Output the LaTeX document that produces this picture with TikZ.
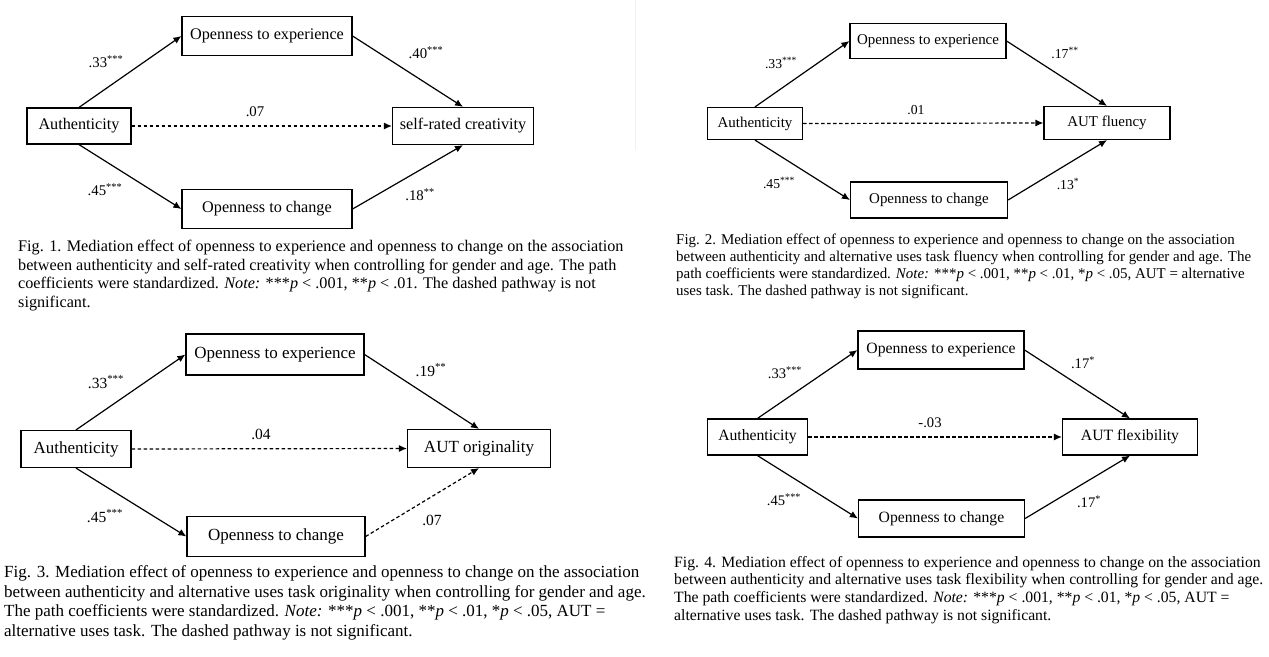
\documentclass[tikz,border=0pt]{standalone}
\usepackage{fontspec}
\setmainfont{Liberation Serif}
\usetikzlibrary{arrows.meta}

\tikzset{
  var/.style={draw, line width=1.2pt, inner sep=0pt},
  eff/.style={-{Latex[length=8pt,width=7pt]}, line width=1.2pt},
  nseff/.style={eff, dash pattern=on 3.5pt off 2.5pt},
  coef/.style={inner sep=0pt},
  figcap/.style={align=left, anchor=north west, inner sep=0pt},
}

\begin{document}
\begin{tikzpicture}[x=1pt,y=-1pt]
\fill[white] (0,0) rectangle (1269,656);
\useasboundingbox (0,0) rectangle (1269,656);
\draw[gray!12,line width=0.8pt] (635,0) -- (635,150);

% Fig. 1
\begin{scope}[font=\fontsize{16.2}{18.5}\selectfont, coef/.append style={font=\fontsize{14.8}{16}\selectfont}]
\node[var, minimum width=104pt, minimum height=36pt] (auth1) at (79,126) {Authenticity};
\node[var, minimum width=170pt, minimum height=39pt] (ote1) at (267,36) {Openness to experience};
\node[var, minimum width=170pt, minimum height=39pt] (otc1) at (267,209) {Openness to change};
\node[var, minimum width=141pt, minimum height=37pt] (src1) at (463,126) {self-rated creativity};
\draw[eff] (auth1.north) -- (ote1.west);
\draw[eff] (ote1.east) -- (src1.north);
\draw[eff] (auth1.south) -- (otc1.west);
\draw[eff] (otc1.east) -- (src1.south);
\draw[nseff] (auth1.east) -- (src1.west);
\node[coef] (a1) at (106,62) {.33\textsuperscript{***}};
\node[coef] (b1) at (426,53) {.40\textsuperscript{***}};
\node[coef] (c1) at (255,112) {.07};
\node[coef] (d1) at (105,190) {.45\textsuperscript{***}};
\node[coef] (e1) at (420,195) {.18\textsuperscript{**}};
\node[figcap] (cap1) at (18,240) {Fig. 1. Mediation effect of openness to experience and openness to change on the association\\
between authenticity and self-rated creativity when controlling for gender and age. The path\\
coefficients were standardized. \textit{Note:} ***\textit{p} < .001, **\textit{p} < .01. The dashed pathway is not\\
significant.};
\end{scope}

% Fig. 2
\begin{scope}[font=\fontsize{14.95}{17}\selectfont, coef/.append style={font=\fontsize{13.7}{15}\selectfont}]
\node[var, minimum width=95pt, minimum height=32pt] (auth2) at (755,123.5) {Authenticity};
\node[var, minimum width=156pt, minimum height=35pt] (ote2) at (928,41) {Openness to experience};
\node[var, minimum width=157pt, minimum height=36pt] (otc2) at (929,200) {Openness to change};
\node[var, minimum width=126pt, minimum height=33pt] (flu2) at (1107,123) {AUT fluency};
\draw[eff] (auth2.north) -- (ote2.west);
\draw[eff] (ote2.east) -- (flu2.north);
\draw[eff] (auth2.south) -- (otc2.west);
\draw[eff] (otc2.east) -- (flu2.south);
\draw[nseff] (auth2.east) -- (flu2.west);
\node[coef] (a2) at (781,63) {.33\textsuperscript{***}};
\node[coef] (b2) at (1065,53) {.17\textsuperscript{**}};
\node[coef] (c2) at (916,110) {.01};
\node[coef] (d2) at (779,183) {.45\textsuperscript{***}};
\node[coef] (e2) at (1068,184) {.13\textsuperscript{*}};
\node[figcap] (cap2) at (676,233.5) {Fig. 2. Mediation effect of openness to experience and openness to change on the association\\
between authenticity and alternative uses task fluency when controlling for gender and age. The\\
path coefficients were standardized. \textit{Note:} ***\textit{p} < .001, **\textit{p} < .01, *\textit{p} < .05, AUT = alternative\\
uses task. The dashed pathway is not significant.};
\end{scope}

% Fig. 3
\begin{scope}[font=\fontsize{17}{19.4}\selectfont, coef/.append style={font=\fontsize{15.5}{17}\selectfont}]
\node[var, minimum width=110pt, minimum height=37pt] (auth3) at (76,449) {Authenticity};
\node[var, minimum width=178pt, minimum height=41pt] (ote3) at (275,354.5) {Openness to experience};
\node[var, minimum width=178pt, minimum height=40pt] (otc3) at (276,536.5) {Openness to change};
\node[var, minimum width=143pt, minimum height=38pt] (ori3) at (479,448.5) {AUT originality};
\draw[eff] (auth3.north) -- (ote3.west);
\draw[eff] (ote3.east) -- (ori3.north);
\draw[eff] (auth3.south) -- (otc3.west);
\draw[nseff] (otc3.east) -- (ori3.south);
\draw[nseff] (auth3.east) -- (ori3.west);
\node[coef] (a3) at (106,382) {.33\textsuperscript{***}};
\node[coef] (b3) at (431,370) {.19\textsuperscript{**}};
\node[coef] (c3) at (261,434) {.04};
\node[coef] (d3) at (105,516) {.45\textsuperscript{***}};
\node[coef] (e3) at (432,520) {.07};
\node[figcap] (cap3) at (4,565.7) {Fig. 3. Mediation effect of openness to experience and openness to change on the association\\
between authenticity and alternative uses task originality when controlling for gender and age.\\
The path coefficients were standardized. \textit{Note:} ***\textit{p} < .001, **\textit{p} < .01, *\textit{p} < .05, AUT =\\
alternative uses task. The dashed pathway is not significant.};
\end{scope}

% Fig. 4
\begin{scope}[font=\fontsize{15.7}{17.7}\selectfont, coef/.append style={font=\fontsize{14.6}{16}\selectfont}]
\node[var, minimum width=100pt, minimum height=36pt] (auth4) at (757.5,437) {Authenticity};
\node[var, minimum width=166pt, minimum height=38pt] (ote4) at (941,350) {Openness to experience};
\node[var, minimum width=166pt, minimum height=37pt] (otc4) at (941.5,518.5) {Openness to change};
\node[var, minimum width=135pt, minimum height=36pt] (flx4) at (1130,437) {AUT flexibility};
\draw[eff] (auth4.north) -- (ote4.west);
\draw[eff] (ote4.east) -- (flx4.north);
\draw[eff] (auth4.south) -- (otc4.west);
\draw[eff] (otc4.east) -- (flx4.south);
\draw[nseff] (auth4.east) -- (flx4.west);
\node[coef] (a4) at (785,373) {.33\textsuperscript{***}};
\node[coef] (b4) at (1083,363) {.17\textsuperscript{*}};
\node[coef] (c4) at (930,423) {-.03};
\node[coef] (d4) at (784,500) {.45\textsuperscript{***}};
\node[coef] (e4) at (1089,502) {.17\textsuperscript{*}};
\node[figcap] (cap4) at (674,556) {Fig. 4. Mediation effect of openness to experience and openness to change on the association\\
between authenticity and alternative uses task flexibility when controlling for gender and age.\\
The path coefficients were standardized. \textit{Note:} ***\textit{p} < .001, **\textit{p} < .01, *\textit{p} < .05, AUT =\\
alternative uses task. The dashed pathway is not significant.};
\end{scope}

\end{tikzpicture}
\end{document}
